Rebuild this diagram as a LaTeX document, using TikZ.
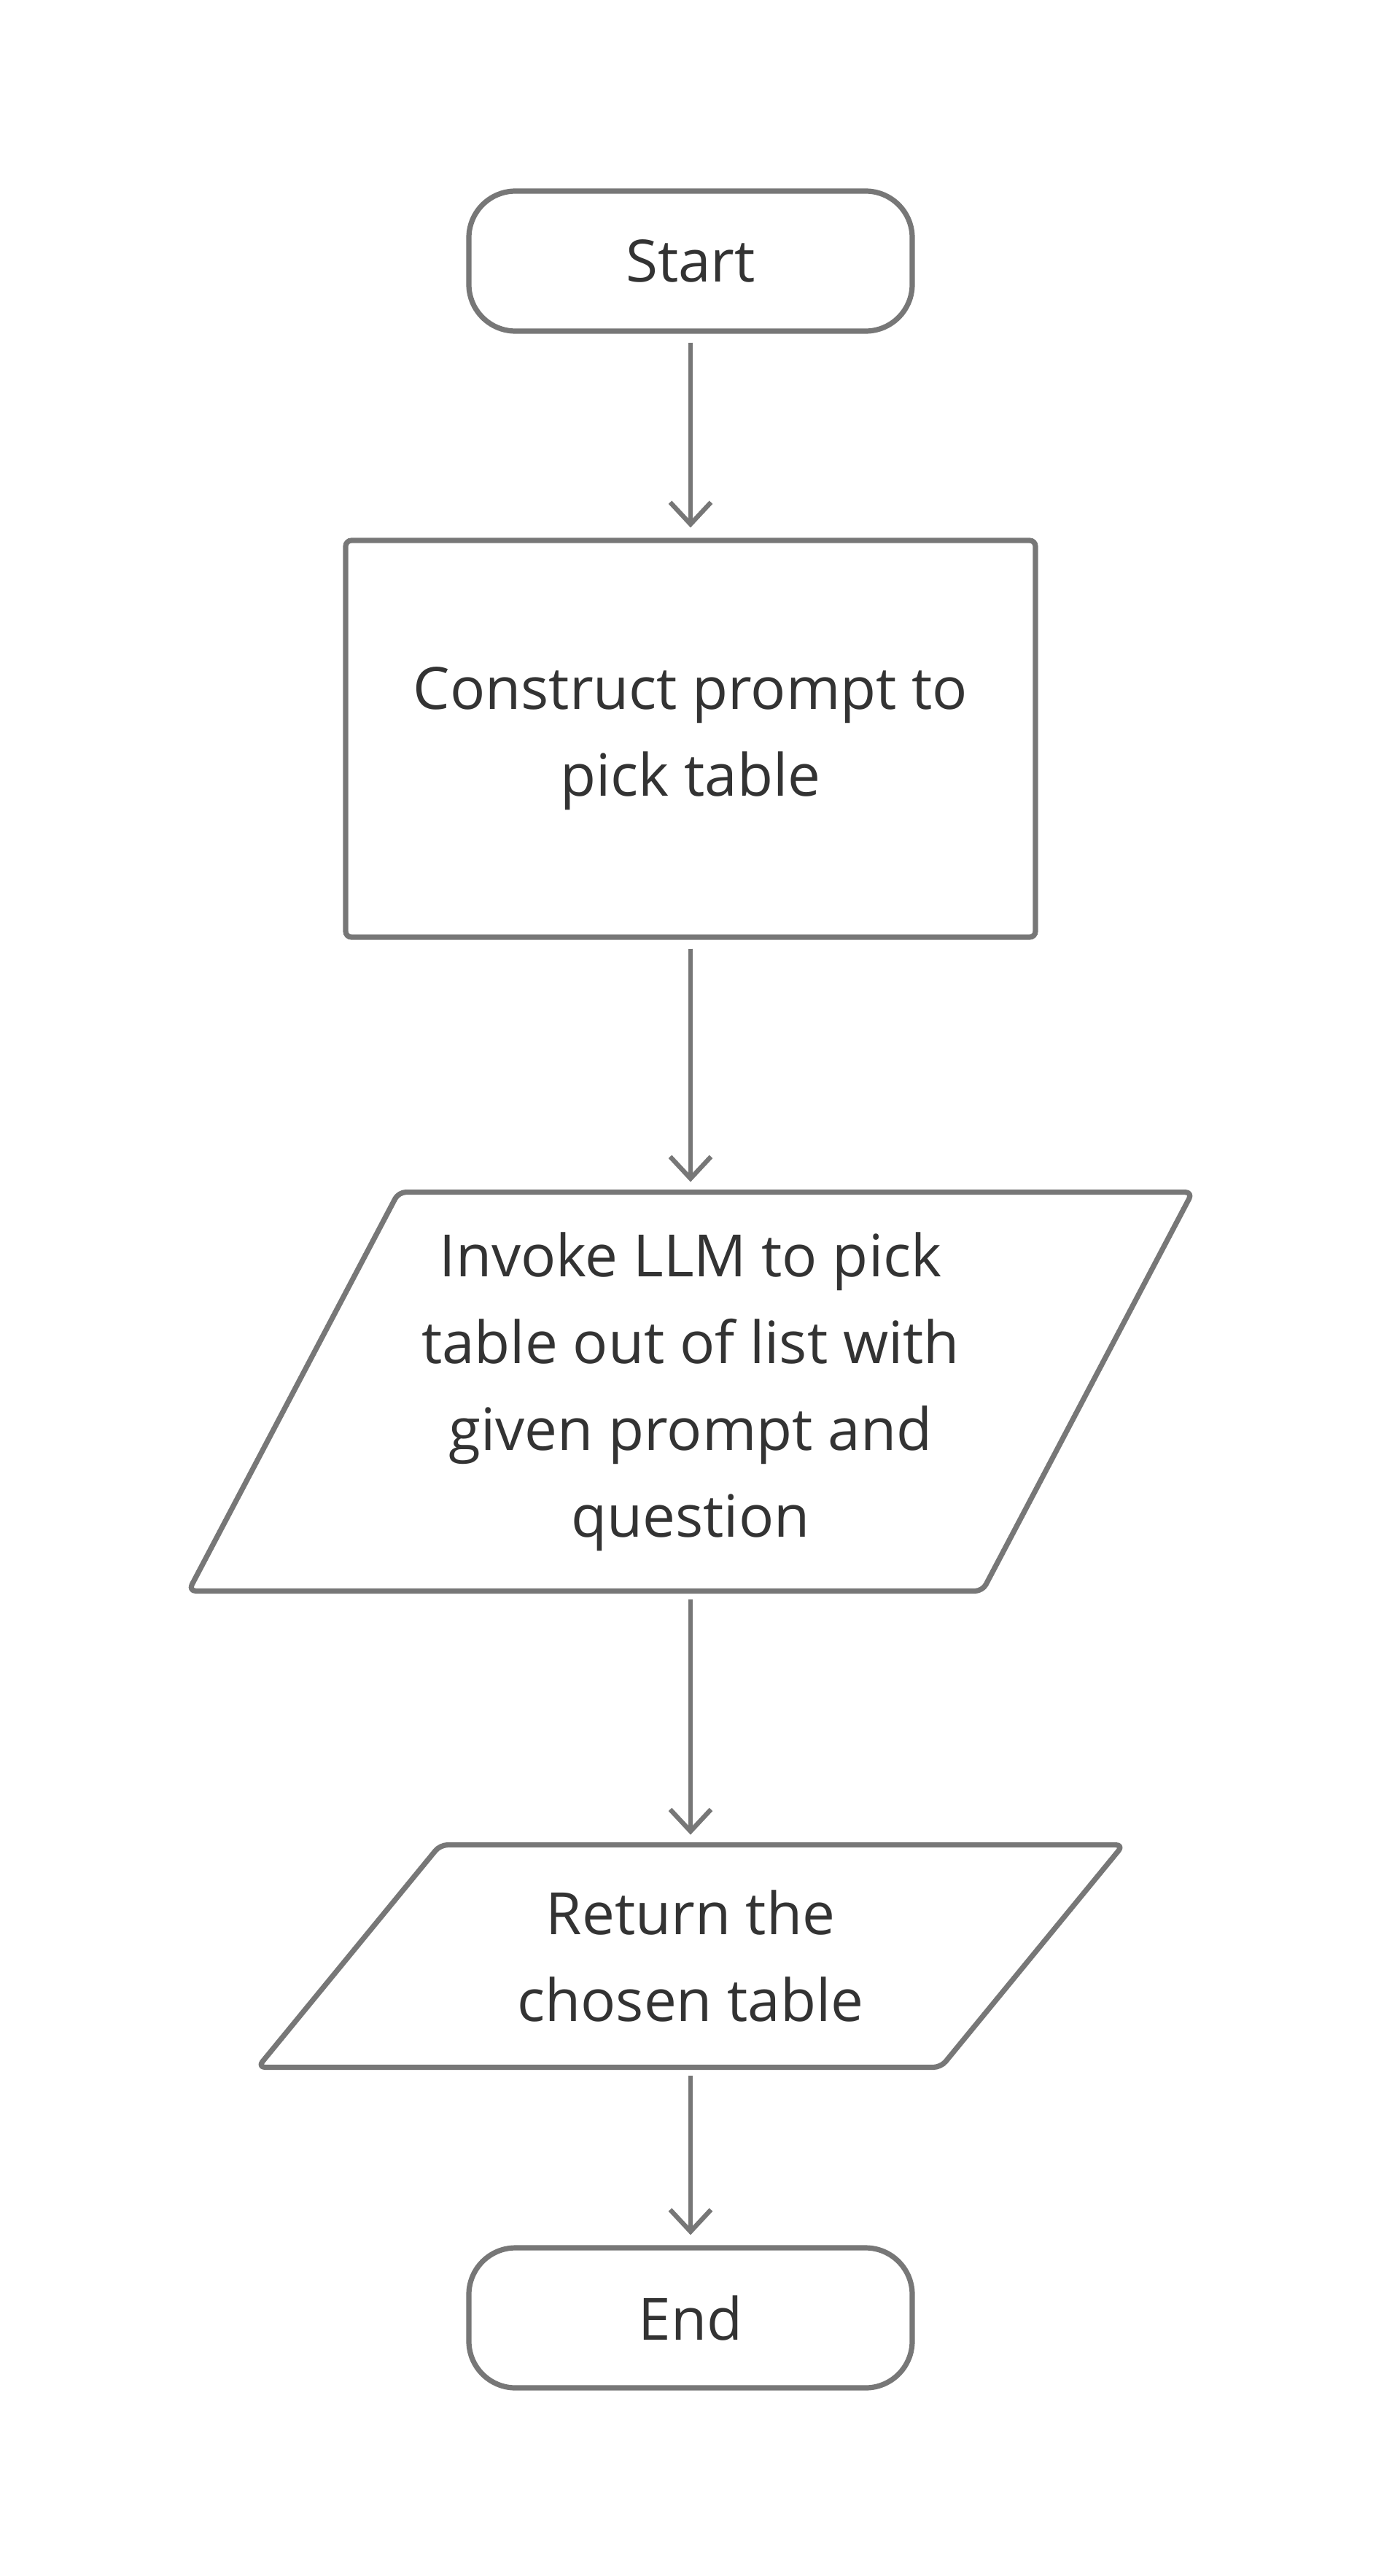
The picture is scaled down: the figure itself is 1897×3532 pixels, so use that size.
\documentclass[tikz,border=0pt]{standalone}
\usepackage{fontspec}
\setmainfont{Open Sans}
\usetikzlibrary{arrows.meta}
\definecolor{linegray}{HTML}{777777}
\definecolor{textgray}{HTML}{333333}
\tikzset{
  flow/.style={draw=linegray, line width=3.2pt,
    -{Straight Barb[length=15pt,width=28pt]},
    shorten <=6pt, shorten >=7pt},
  terminal/.style={draw=linegray, line width=3.6pt, rounded corners=32pt,
    minimum width=304pt, minimum height=96pt, inner sep=0pt},
  process/.style={draw=linegray, line width=3.6pt, rounded corners=4pt,
    minimum width=473pt, minimum height=272pt, inner sep=0pt, align=center},
  iobox/.style={inner sep=0pt, align=center},
  ioline/.style={draw=linegray, line width=3.6pt, rounded corners=5pt, line join=round}
}
\begin{document}
\begin{tikzpicture}[x=0.5pt, y=-0.5pt,
      every node/.style={text=textgray},
      font=\fontsize{40}{59.5}\selectfont]
      \useasboundingbox (0,0) rectangle (1897,3532);
      \path (947,358) node[terminal] (start) {Start};
      \path (947,1013) node[process] (construct) {Construct prompt to\\pick table};
      \path (947,1908) node[iobox, minimum width=544pt, minimum height=273pt] (invoke)
        {Invoke LLM to pick\\table out of list with\\given prompt and\\question};
      \draw[ioline] ([xshift=72pt]invoke.north west) -- ([xshift=72pt]invoke.north east)
        -- ([xshift=-72pt]invoke.south east) -- ([xshift=-72pt]invoke.south west) -- cycle;
      \path (947,2682) node[iobox, minimum width=468pt, minimum height=152pt] (ret)
        {Return the\\chosen table};
      \draw[ioline] ([xshift=62.5pt]ret.north west) -- ([xshift=62.5pt]ret.north east)
        -- ([xshift=-62.5pt]ret.south east) -- ([xshift=-62.5pt]ret.south west) -- cycle;
      \path (947,3178) node[terminal] (end) {End};
      \draw[flow] (start) -- (construct);
      \draw[flow] (construct) -- (invoke);
      \draw[flow] (invoke) -- (ret);
      \draw[flow] (ret) -- (end);
\end{tikzpicture}
\end{document}
